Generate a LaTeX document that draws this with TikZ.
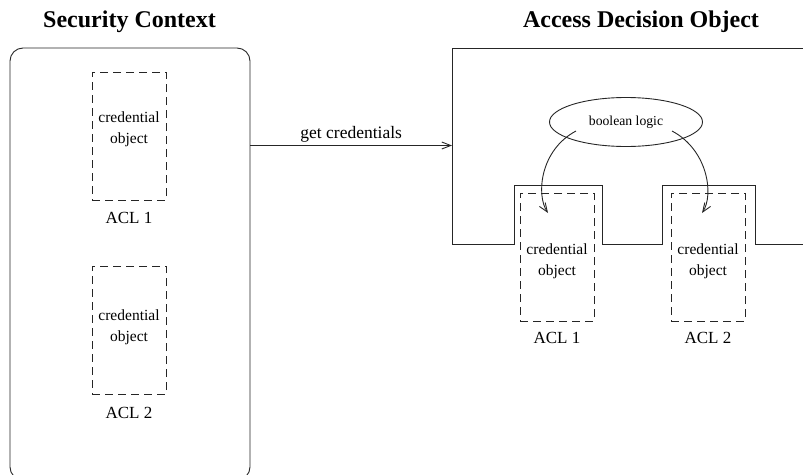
\documentclass[tikz,border=0pt]{standalone}
\usepackage{fontspec}
\setmainfont{Liberation Serif}
\usetikzlibrary{shapes.geometric,arrows.meta}
\begin{document}
\begin{tikzpicture}[x=1pt,y=-1pt,
  line/.style={draw=black!85,line width=0.9pt},
  dbox/.style={draw=black!85,line width=0.9pt,dash pattern=on 8pt off 5pt,minimum width=74pt,minimum height=128pt,inner sep=0pt},
  credtext/.style={font=\fontsize{15.5}{18}\selectfont,inner sep=0pt,align=center},
  acltext/.style={font=\fontsize{17}{20}\selectfont,inner sep=0pt,anchor=base},
  title/.style={font=\fontsize{24}{28}\selectfont\bfseries,inner sep=0pt,anchor=base},
  tip/.style={-{Straight Barb[length=9pt,width=7pt]}}
]
\useasboundingbox (0,0) rectangle (803,474);
% titles
\node[title] (t1) at (129.5,27) {Security Context};
\node[title] (t2) at (641,27) {Access Decision Object};
% security context
\node[line,rounded corners=13pt,minimum width=240pt,minimum height=432pt,inner sep=0pt] (sc) at (130,264) {};
\node[dbox] (l1) at (129,136) {};
\node[credtext] (l1a) at (129,117) {credential};
\node[credtext] (l1b) at (129,140) {object};
\node[acltext] (l1c) at (129,223) {ACL 1};
\node[dbox] (l2) at (129,330) {};
\node[credtext] (l2a) at (129,315) {credential};
\node[credtext] (l2b) at (129,338) {object};
\node[acltext] (l2c) at (129,418) {ACL 2};
% access decision object
\draw[line] (820,48) -- (452,48) -- (452,244) -- (514,244) -- (514,185) -- (602,185) -- (602,244)
  -- (662,244) -- (662,185) -- (755,185) -- (755,244) -- (820,244);
\coordinate (ado) at (452,145.5);
\node[dbox] (r1) at (557,257) {};
\node[credtext] (r1a) at (557,249) {credential};
\node[credtext] (r1b) at (557,272) {object};
\node[acltext] (r1c) at (557,343) {ACL 1};
\node[dbox] (r2) at (708,257) {};
\node[credtext] (r2a) at (708,249) {credential};
\node[credtext] (r2b) at (708,272) {object};
\node[acltext] (r2c) at (708,343) {ACL 2};
\node[line,ellipse,minimum width=153pt,minimum height=49pt,inner sep=0pt,font=\fontsize{13.7}{16}\selectfont] (bl) at (626,122) {boolean logic};
% connectors
\draw[line,tip] (sc.east |- ado) -- node[above=3pt,font=\fontsize{17.5}{20}\selectfont,inner sep=0pt] (gc) {get credentials} (ado);
\coordinate (s1) at (576,131);
\coordinate (s2) at (672,131);
\coordinate (a1) at (548,213);
\coordinate (a2) at (702,213);
\draw[line,tip] (s1) .. controls (540,150) and (536,195) .. (a1);
\draw[line,tip] (s2) .. controls (708,150) and (714,195) .. (a2);
\end{tikzpicture}
\end{document}
